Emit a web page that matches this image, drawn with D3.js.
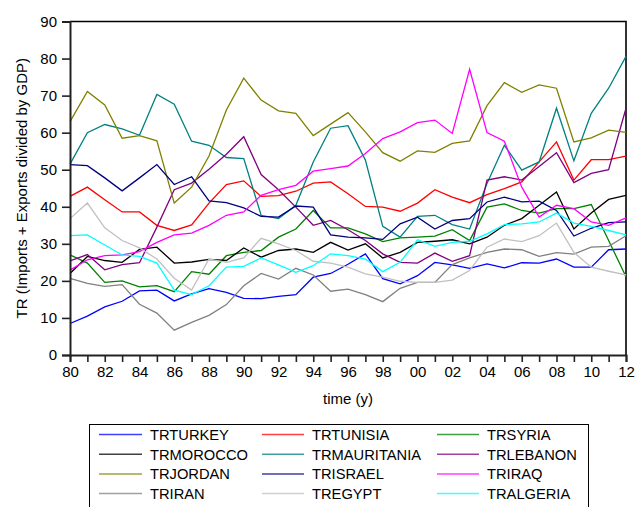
<!DOCTYPE html>
<html><head><meta charset="utf-8">
<script src="https://cdn.jsdelivr.net/npm/d3@7"></script>
<style>body{margin:0;background:#fff}svg{display:block;font-family:Arial,"Liberation Sans",sans-serif}</style>
</head><body><svg id="c" width="644" height="507"></svg>
<script>
const years = d3.range(1980, 2013);
const yTicks = [0,10,20,30,40,50,60,70,80,90];
const xTickLabels = ["80","82","84","86","88","90","92","94","96","98","00","02","04","06","08","10","12"];
const seriesNames = ["TRTURKEY","TRTUNISIA","TRSYRIA","TRMOROCCO","TRMAURITANIA","TRLEBANON","TRJORDAN","TRISRAEL","TRIRAQ","TRIRAN","TREGYPT","TRALGERIA"];
const seriesColors = ["#0000ff","#ff0000","#008000","#000000","#008080","#800080","#808000","#000080","#ff00ff","#808080","#c0c0c0","#00ffff"];

const trTurkey = [8.5,10.5,13,14.5,17.3,17.5,14.6,16.5,17.9,16.9,15.3,15.2,15.8,16.3,21,22,24.5,27.3,20.6,19.2,21.4,25,24.3,23.4,24.6,23.5,24.9,24.8,25.9,23.7,23.7,28.4,28.6];
const trTunisia = [42.8,45.3,41.9,38.6,38.6,35,33.6,35.1,41,46,47,42.8,43,44.2,46.4,46.7,43.5,40.1,39.9,38.8,41,44.6,42.6,41.1,43.3,44.9,46.7,52.1,57.5,47.2,52.7,52.7,53.7];
const trSyria = [27,24.8,19.6,20,18.4,18.7,17.1,22.5,21.8,26.8,27.7,28.2,31.8,34,39,34.3,34.3,32.7,30.6,31.6,31.8,32.1,33.8,30.9,39.9,40.8,39,38.3,39.5,39.5,40.6,30.9,21.1];
const trMorocco = [22,26.6,25.5,25,28.5,29.1,24.8,25.1,25.8,25.5,28.9,26.4,28.2,28.6,27.7,30.4,28.3,30,26.2,27.7,30.4,30.7,31.1,30,31.8,35,36.8,40.4,44,34,38.3,42,43.1];
const trMauritania = [51.5,60,62.2,61,59.3,70.3,67.7,57.7,56.6,53.3,53,37.7,36.8,40.4,52.1,61.2,61.9,52.6,34.7,31.8,37.4,37.7,35.2,34,46.3,56.6,49.9,52.1,66.6,52.4,65.2,72,80.6];
const trLebanon = [25.4,27.1,23,24.4,24.9,34.5,44.6,46.4,50.1,54.2,58.9,48.7,44.6,39.9,35,36.3,33.8,30.9,27.3,25,24.8,27.5,25.3,26.8,47.2,48.1,47.2,50.9,54.6,46.5,49,50,66.6];
const trJordan = [63,71.1,67.5,58.5,59.2,57.8,41,45.3,53.7,66.1,74.7,68.8,65.9,65.2,59.2,62.3,65.4,60.2,54.6,52.3,55.1,54.7,57.1,57.8,67.3,73.5,70.9,72.9,72,57.5,58.6,60.7,60.1];
const trIsrael = [51.4,51.1,47.8,44.3,47.8,51.4,46,48.1,41.6,41.1,39.7,37.4,37.2,40.2,39.9,32.4,31.8,31.6,31.2,35.4,37.2,34,36.3,36.8,41.3,42.6,41.3,41.5,39,32.1,34.2,35.7,35.9];
const trIraq = [22.9,25.7,26.8,27,27.9,30.4,32.4,32.9,35,37.7,38.6,43.1,44.6,45.8,49.6,50.3,51,54.4,58.4,60.2,62.7,63.4,59.8,77.1,60,57.7,45.3,37.2,40.4,39.5,35.9,35,37];
const trIran = [20.7,19.3,18.5,19,13.7,11.3,6.7,8.8,10.7,13.6,18.7,22,20.5,23.4,21.6,17.2,17.8,16.3,14.4,18,19.6,19.6,24.4,26.2,27.7,28.6,28.4,26.6,27.6,27.2,29.1,29.3,32.2];
const trEgypt = [36.8,41,34.3,30.9,28.9,25.9,20.7,17.5,25.9,25,26.2,31.5,30,28.2,25.3,24.8,23.7,21.9,21,19.9,19.6,19.6,20.2,22.8,29.1,31.3,30.6,32.2,35.6,27.7,23.7,22.6,21.6];
const trAlgeria = [32.2,32.4,29.7,27,26.6,24.8,17.5,16.3,18.7,23.7,23.9,26.2,24.3,22.3,24.1,27.3,26.8,25.9,22.5,25,31.1,29.3,30.4,30.7,32.7,35.2,35.4,35.9,38.3,35.6,34.7,33.6,32.4];

const seriesValues = [trTurkey,trTunisia,trSyria,trMorocco,trMauritania,trLebanon,trJordan,trIsrael,trIraq,trIran,trEgypt,trAlgeria];

const svg = d3.select("#c");
const L = 70, R = 626, T = 21.5, B = 355;
const x = d3.scaleLinear().domain([1980, 2012]).range([L, R]);
const y = d3.scaleLinear().domain([0, 90]).range([B, T]);

// frame top/right
svg.append("path").attr("d", `M${L},${T}H${R}V${B}`).attr("fill","none").attr("stroke","#000").attr("stroke-width",1.6);

// series (draw in reverse so first series on top)
const line = d3.line().x((d,i)=>x(years[i])).y(d=>y(d));
seriesValues.forEach((vals, k) => {
  svg.append("path").datum(vals).attr("d", line).attr("fill","none")
    .attr("stroke", seriesColors[k]).attr("stroke-width",1.3).attr("stroke-linejoin","miter");
});

// axes
const yAxis = d3.axisLeft(y).tickValues(yTicks).tickSize(8).tickPadding(5).tickFormat(d3.format("d"));
const gy = svg.append("g").attr("transform",`translate(${L},0)`).call(yAxis);
gy.select(".domain").attr("stroke","#222").attr("stroke-width",2);
gy.selectAll(".tick line").attr("stroke","#222").attr("stroke-width",1.6);
gy.selectAll(".tick text").attr("font-size",15).attr("font-family","Arial, 'Liberation Sans', sans-serif").attr("fill","#000");

const labelMap = new Map(xTickLabels.map(s => [s, true]));
const xAxis = d3.axisBottom(x).tickValues(years).tickSize(7).tickPadding(4)
  .tickFormat(d => { const s = String(d % 100).padStart(2,"0"); return labelMap.has(s) && d % 2 === 0 ? s : ""; });
const gx = svg.append("g").attr("transform",`translate(0,${B})`).call(xAxis);
gx.select(".domain").attr("stroke","#222").attr("stroke-width",2);
gx.selectAll(".tick line").attr("stroke","#222").attr("stroke-width",1.6);
gx.selectAll(".tick text").attr("font-size",15).attr("font-family","Arial, 'Liberation Sans', sans-serif").attr("fill","#000");

// axis titles
svg.append("text").attr("transform",`translate(27,${(T+B)/2}) rotate(-90)`).attr("text-anchor","middle")
  .attr("font-size",15).text("TR (Imports + Exports divided by GDP)");
svg.append("text").attr("x",(L+R)/2).attr("y",404).attr("text-anchor","middle").attr("font-size",15).text("time (y)");

// legend
svg.append("rect").attr("x",89.5).attr("y",424.5).attr("width",499).attr("height",100)
  .attr("fill","none").attr("stroke","#000").attr("stroke-width",1);
const colX = [[99,142,150],[262,304,312],[437,479,487]];
seriesNames.forEach((name, k) => {
  const col = k % 3, row = Math.floor(k / 3);
  const cy = 434.5 + row * 19.7;
  svg.append("line").attr("x1",colX[col][0]).attr("x2",colX[col][1]).attr("y1",cy).attr("y2",cy)
    .attr("stroke",seriesColors[k]).attr("stroke-width",1.5).attr("stroke-opacity",0.75);
  svg.append("text").attr("x",colX[col][2]).attr("y",cy+5.3).attr("font-size",14.7).text(name);
});
</script></body></html>
